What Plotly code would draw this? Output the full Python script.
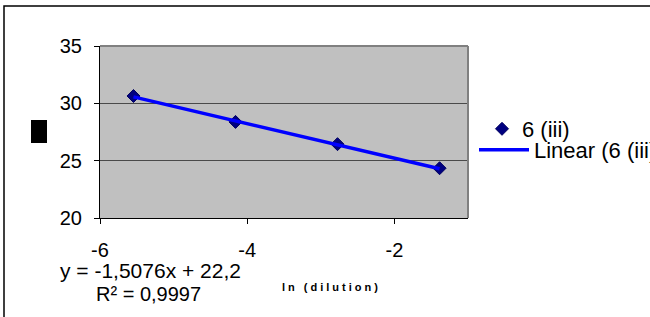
import plotly.graph_objects as go

# Data
ln_dilution = [-5.545, -4.159, -2.773, -1.386]
ct_values = [30.64, 28.38, 26.44, 24.34]
series_name = "6 (iii)"
trend_name = "Linear (6 (iii)"
slope = -1.5076
intercept = 22.2
r_squared_text = "R² = 0,9997"
equation_text = "y = -1,5076x + 22,2"
x_axis_title = "ln (dilution)"
x_tick_vals = [-6, -4, -2]
x_tick_text = ["-6", "-4", "-2"]
y_tick_vals = [20, 25, 30, 35]
y_tick_text = ["20", "25", "30", "35"]

trend_x = [min(ln_dilution), max(ln_dilution)]
trend_y = [slope * v + intercept for v in trend_x]

FONT = "Arial, 'Liberation Sans', sans-serif"

fig = go.Figure()
fig.add_trace(go.Scatter(
    x=ln_dilution, y=ct_values, mode="markers", name=series_name,
    marker=dict(symbol="diamond", size=10, color="#000080",
                line=dict(color="#000060", width=1)),
    legend="legend",
))
fig.add_trace(go.Scatter(
    x=trend_x, y=trend_y, mode="lines", name=trend_name,
    line=dict(color="#0000FF", width=3.5),
    legend="legend2",
))

W, H = 650, 317
L, R, T, B = 100, 468, 46, 218

def px(x):
    return (x - L) / (R - L)

def py(y):
    return (B - y) / (B - T)

fig.update_layout(
    width=W, height=H,
    margin=dict(l=L, r=W - R, t=T, b=H - B, autoexpand=False),
    paper_bgcolor="white", plot_bgcolor="#C0C0C0",
    font=dict(family=FONT, size=20, color="black"),
    showlegend=True,
    legend=dict(x=px(482), y=py(129), xanchor="left", yanchor="middle",
                bgcolor="rgba(0,0,0,0)", font=dict(size=22), itemwidth=30),
    legend2=dict(x=px(474), y=py(150), xanchor="left", yanchor="middle",
                 bgcolor="rgba(0,0,0,0)", font=dict(size=22), itemwidth=50),
    xaxis=dict(range=[-6, -1], tickvals=x_tick_vals, ticktext=x_tick_text,
               showgrid=False,
               showline=True, linecolor="black", linewidth=1,
               ticks="outside", ticklen=5, tickcolor="black",
               ticklabelstandoff=9, zeroline=False,
               tickfont=dict(size=20)),
    yaxis=dict(range=[20, 35], tickvals=y_tick_vals, ticktext=y_tick_text,
               showgrid=True, gridcolor="#4a4a4a", gridwidth=1,
               showline=True, linecolor="black", linewidth=1,
               ticks="outside", ticklen=5, tickcolor="black",
               ticklabelstandoff=8, zeroline=False,
               tickfont=dict(size=20)),
)

shapes = [
    # plot area top and right border (gray)
    dict(type="line", xref="paper", yref="paper", x0=0, x1=1, y0=1, y1=1,
         line=dict(color="#808080", width=2)),
    dict(type="line", xref="paper", yref="paper", x0=1, x1=1, y0=0, y1=1,
         line=dict(color="#808080", width=2)),
    # chart outer border
    dict(type="rect", xref="paper", yref="paper",
         x0=px(4), x1=px(700), y0=py(6), y1=py(400),
         line=dict(color="black", width=1.5), fillcolor="rgba(0,0,0,0)"),
    # y-axis title box (unrenderable glyph in the original)
    dict(type="rect", xref="paper", yref="paper",
         x0=px(31), x1=px(47), y0=py(143), y1=py(120),
         line=dict(width=0), fillcolor="black"),
]
fig.update_layout(shapes=shapes)

fig.add_annotation(x=px(150), y=py(270), xref="paper", yref="paper",
                   text=equation_text, showarrow=False,
                   font=dict(size=21), xanchor="center", yanchor="middle")
fig.add_annotation(x=px(148), y=py(294), xref="paper", yref="paper",
                   text=r_squared_text, showarrow=False,
                   font=dict(size=20), xanchor="center", yanchor="middle")
fig.add_annotation(x=px(331), y=py(287), xref="paper", yref="paper",
                   text='<span style="letter-spacing:3px"><b>' + x_axis_title + '</b></span>',
                   showarrow=False, font=dict(size=11),
                   xanchor="center", yanchor="middle")

fig.write_html("out.html",
               config={"displayModeBar": False},
               post_script="document.body.style.margin='0';document.body.style.overflow='hidden';")
